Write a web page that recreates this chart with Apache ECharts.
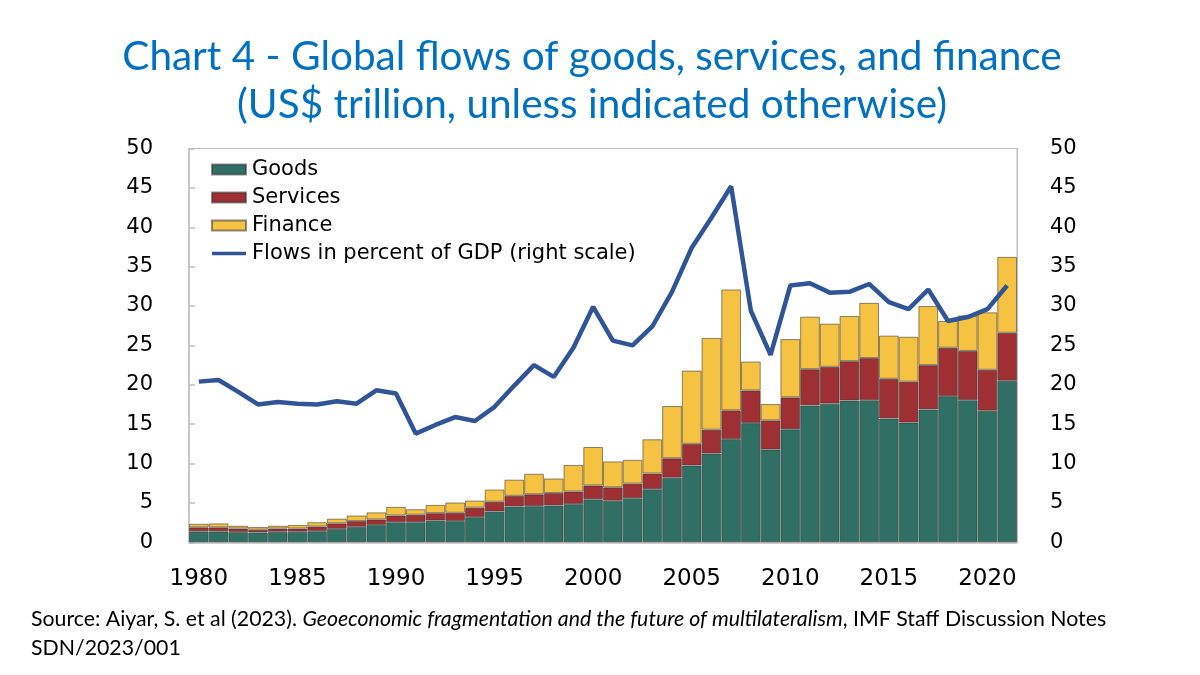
<!DOCTYPE html>
<html>
<head>
<meta charset="utf-8">
<title>Chart 4 - Global flows</title>
<script src="https://cdn.jsdelivr.net/npm/echarts@6/dist/echarts.min.js"></script>
<style>
  html, body { margin: 0; padding: 0; background: #fff; }
  #main { width: 1200px; height: 675px; }
</style>
</head>
<body>
<div id="main"></div>
<script>
// 年份
var years = [];
for (var y = 1980; y <= 2021; y++) { years.push(String(y)); }

// US$ trillion
var goods = [1.4, 1.4, 1.3, 1.25, 1.33, 1.33, 1.42, 1.7, 1.96, 2.2,
    2.55, 2.55, 2.75, 2.7, 3.2, 3.9, 4.55, 4.6, 4.68, 4.85,
    5.46, 5.27, 5.6, 6.75, 8.2, 9.75, 11.27, 13.1, 15.14, 11.77,
    14.34, 17.38, 17.6, 18.0, 18.05, 15.73, 15.2, 16.87, 18.56, 18.05,
    16.7, 20.5];
var services = [0.5, 0.5, 0.45, 0.35, 0.42, 0.42, 0.58, 0.7, 0.74, 0.7,
    0.85, 0.95, 0.95, 1.05, 1.2, 1.25, 1.35, 1.5, 1.58, 1.6,
    1.76, 1.71, 1.85, 1.98, 2.47, 2.75, 3.03, 3.65, 4.14, 3.71,
    4.06, 4.6, 4.68, 5.0, 5.35, 5.03, 5.2, 5.63, 6.14, 6.25,
    5.2, 6.1];
var finance = [0.45, 0.5, 0.35, 0.35, 0.35, 0.45, 0.55, 0.6, 0.7, 0.9,
    1.1, 0.7, 1.05, 1.3, 0.9, 1.55, 2.05, 2.6, 1.84, 3.37,
    4.88, 3.29, 3.02, 4.35, 6.63, 9.3, 11.65, 15.35, 3.67, 2.07,
    7.4, 6.67, 5.48, 5.73, 7.0, 5.48, 5.7, 7.5, 3.4, 4.5,
    7.3, 9.64];
// percent of GDP (right scale)
var flowsGdp = [20.4, 20.6, 19.1, 17.5, 17.8, 17.6, 17.5, 17.9, 17.6, 19.3,
    18.9, 13.8, 14.9, 15.9, 15.4, 17.2, 19.9, 22.5, 21.0, 24.7,
    29.9, 25.6, 25.0, 27.4, 31.8, 37.4, 41.2, 45.2, 29.4, 23.8,
    32.6, 32.9, 31.7, 31.8, 32.8, 30.5, 29.6, 32.1, 28.1, 28.6,
    29.6, 32.6];

var yTicks = { min: 0, max: 50, interval: 5 };

var myChart = echarts.init(document.getElementById('main'));
var barBorder = 'rgba(50,50,50,0.55)';

var option = {
    backgroundColor: '#ffffff',
    animation: false,
    title: [{
        text: 'Chart 4 - Global flows of goods, services, and finance\n(US$ trillion, unless indicated otherwise)',
        left: 587,
        top: 28,
        textAlign: 'center',
        textStyle: {
            fontFamily: 'Lato',
            fontWeight: 'normal',
            fontSize: 40.5,
            lineHeight: 48,
            color: '#0070C0'
        }
    }, {
        // 资料来源
        text: '{n|Source: Aiyar, S. et al (2023). }{i|Geoeconomic fragmentation and the future of multilateralism}{n|, IMF Staff Discussion Notes}\n{n|SDN/2023/001}',
        left: 26,
        top: 600,
        textStyle: {
            rich: {
                n: { fontFamily: 'Lato', fontWeight: 'normal', fontSize: 21.3, lineHeight: 29, color: '#000' },
                i: { fontFamily: 'Lato', fontWeight: 'normal', fontSize: 21.3, lineHeight: 29, color: '#000', fontStyle: 'italic' }
            }
        }
    }],
    legend: {
        orient: 'vertical',
        left: 206,
        top: 154,
        itemWidth: 34,
        itemHeight: 10,
        itemGap: 7,
        textStyle: { fontFamily: 'DejaVu Sans', fontSize: 21, color: '#000', padding: [0, 0, 0, 1] },
        data: [
            { name: 'Goods', icon: 'rect' },
            { name: 'Services', icon: 'rect' },
            { name: 'Finance', icon: 'rect' },
            { name: 'Flows in percent of GDP (right scale)', icon: 'path://M0,3.2 L34,3.2 L34,6.8 L0,6.8 Z' }
        ]
    },
    grid: {
        left: 189,
        right: 183,
        top: 148.5,
        bottom: 132.7,
        show: true,
        borderColor: '#BFBFBF',
        borderWidth: 1
    },
    xAxis: {
        type: 'category',
        data: years,
        boundaryGap: true,
        axisLine: { lineStyle: { color: '#BFBFBF', width: 1.5 } },
        axisTick: { inside: true, interval: 4, length: 6, lineStyle: { color: '#BFBFBF', width: 1.5 } },
        axisLabel: { interval: 4, margin: 25, fontFamily: 'DejaVu Sans', fontSize: 23, color: '#000' }
    },
    yAxis: [{
        type: 'value',
        min: yTicks.min, max: yTicks.max, interval: yTicks.interval,
        splitLine: { show: false },
        axisLine: { show: true, lineStyle: { color: '#BFBFBF', width: 1.5 } },
        axisTick: { show: true, inside: true, length: 6, lineStyle: { color: '#BFBFBF', width: 1.5 } },
        axisLabel: { margin: 36, fontFamily: 'DejaVu Sans', fontSize: 21, color: '#000' }
    }, {
        type: 'value',
        position: 'right',
        min: yTicks.min, max: yTicks.max, interval: yTicks.interval,
        splitLine: { show: false },
        axisLine: { show: true, lineStyle: { color: '#BFBFBF' } },
        axisTick: { show: false },
        axisLabel: { margin: 33, fontFamily: 'DejaVu Sans', fontSize: 21, color: '#000' }
    }],
    series: [{
        name: 'Goods',
        type: 'bar',
        stack: 'flows',
        barCategoryGap: 0,
        itemStyle: { color: '#2F6F64', borderColor: barBorder, borderWidth: 1 },
        data: goods
    }, {
        name: 'Services',
        type: 'bar',
        stack: 'flows',
        barCategoryGap: 0,
        itemStyle: { color: '#9E2F32', borderColor: barBorder, borderWidth: 1 },
        data: services
    }, {
        name: 'Finance',
        type: 'bar',
        stack: 'flows',
        barCategoryGap: 0,
        itemStyle: { color: '#F5C242', borderColor: barBorder, borderWidth: 1 },
        data: finance
    }, {
        name: 'Flows in percent of GDP (right scale)',
        type: 'line',
        yAxisIndex: 1,
        symbol: 'none',
        z: 5,
        itemStyle: { color: '#2F5597' },
        lineStyle: { color: '#2F5597', width: 4.5 },
        data: flowsGdp
    }]
};
myChart.setOption(option);
</script>
</body>
</html>
